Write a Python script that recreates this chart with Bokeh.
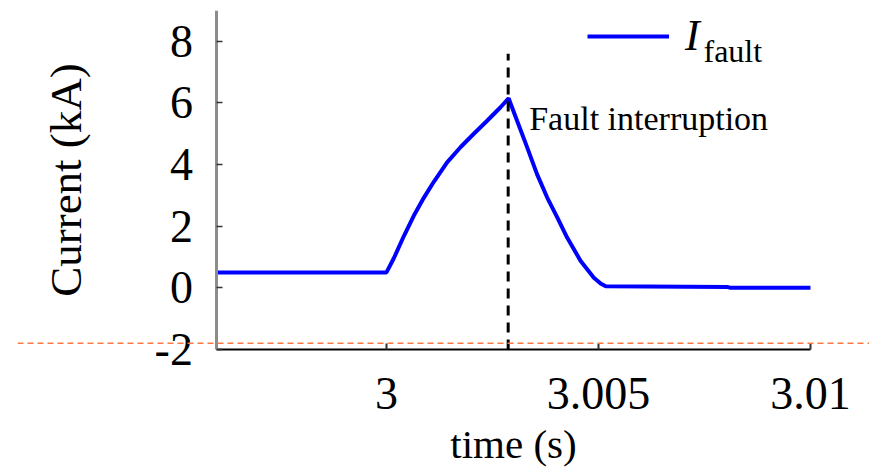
from bokeh.plotting import figure
from bokeh.models import (Range1d, FixedTicker, Legend, LegendItem, Label, Span)
from bokeh.embed import file_html
from bokeh.resources import INLINE

# ---- data ----
time_s = [2.996, 3.0000, 3.00017, 3.00041, 3.00064, 3.00088, 3.00112, 3.00143,
          3.00175, 3.00206, 3.00238, 3.00269, 3.00288,
          3.00308, 3.00332, 3.00355, 3.00379, 3.00403, 3.00426, 3.00458,
          3.00489, 3.00505, 3.00517, 3.00804, 3.00811, 3.010]
i_fault_kA = [0.50, 0.50, 0.95, 1.68, 2.33, 2.92, 3.45, 4.07,
              4.57, 5.00, 5.43, 5.86, 6.15,
              5.42, 4.55, 3.69, 2.93, 2.28, 1.63, 0.87,
              0.33, 0.14, 0.05, 0.03, 0.00, 0.00]
t_interrupt = 3.00287
interrupt_line_y = [-2.0, 7.6]
ref_level_kA = -1.8

x_ticks = [3.0, 3.005, 3.01]
x_tick_labels = ["3", "3.005", "3.01"]
y_ticks = [-2, 0, 2, 4, 6, 8]
y_tick_labels = ["-2", "0", "2", "4", "6", "8"]

x_axis_bounds = (2.996, 3.01)
y_axis_bounds = (-2, 9)

FONT = "Liberation Serif"

p = figure(width=869, height=470,
           x_range=Range1d(2.991297, 3.011392), y_range=Range1d(-5.929, 9.0),
           output_backend="svg", toolbar_location=None,
           min_border_left=17, min_border_right=0, min_border_top=10, min_border_bottom=0)
p.outline_line_color = None
p.grid.visible = False
p.background_fill_color = "white"

# orange reference line
p.add_layout(Span(location=ref_level_kA, dimension="width", line_color="#FF7A45",
                  line_width=1.5, line_dash="6 4"))

# curve
r = p.line(time_s, i_fault_kA, line_color="#0000FF", line_width=4)

# interruption marker
p.line([t_interrupt, t_interrupt], interrupt_line_y, line_color="black",
       line_width=3, line_dash="10 7")

# axes (fixed at the data origin so the frame can span the full width)
xa = p.xaxis[0]
xa.fixed_location = y_axis_bounds[0]
xa.bounds = x_axis_bounds
xa.ticker = FixedTicker(ticks=x_ticks)
xa.major_label_overrides = {t: l for t, l in zip(x_ticks, x_tick_labels)}
xa.axis_line_color = "black"
xa.axis_line_width = 2
xa.major_tick_in = 6
xa.major_tick_out = 0
xa.major_tick_line_color = "#333333"
xa.major_tick_line_width = 2
xa.minor_tick_line_color = None
xa.major_label_text_font = FONT
xa.major_label_text_font_size = "46px"
xa.major_label_text_color = "black"
xa.major_label_standoff = 29
xa.axis_label = "time (s)"
xa.axis_label_text_font = FONT
xa.axis_label_text_font_size = "41px"
xa.axis_label_text_font_style = "normal"
xa.axis_label_text_color = "black"
xa.axis_label_standoff = 8

ya = p.yaxis[0]
ya.fixed_location = x_axis_bounds[0]
ya.bounds = y_axis_bounds
ya.ticker = FixedTicker(ticks=y_ticks)
ya.major_label_overrides = {t: l for t, l in zip(y_ticks, y_tick_labels)}
ya.axis_line_color = "#8c8c8c"
ya.axis_line_width = 3
ya.major_tick_in = 6
ya.major_tick_out = 0
ya.major_tick_line_color = "#333333"
ya.major_tick_line_width = 1.5
ya.minor_tick_line_color = None
ya.major_label_text_font = FONT
ya.major_label_text_font_size = "46px"
ya.major_label_text_color = "black"
ya.major_label_standoff = 24
ya.axis_label = "Current (kA)"
ya.axis_label_text_font = FONT
ya.axis_label_text_font_size = "45px"
ya.axis_label_text_font_style = "normal"
ya.axis_label_text_color = "black"
ya.axis_label_standoff = 60

# annotation
p.add_layout(Label(x=t_interrupt, y=5.5, x_offset=21, text="Fault interruption",
                   text_font=FONT, text_font_size="34px", text_color="black",
                   text_baseline="alphabetic"))

# legend
legend = Legend(items=[LegendItem(label="I", renderers=[r])], location=(570, 409),
                glyph_width=82, glyph_height=30, label_standoff=16, padding=0, margin=0,
                spacing=0, border_line_color=None, background_fill_alpha=0,
                label_text_font=FONT, label_text_font_style="italic",
                label_text_font_size="44px", label_text_color="black")
p.add_layout(legend)
p.add_layout(Label(x=686, y=420, x_units="screen", y_units="screen", text="fault",
                   text_font=FONT, text_font_size="32px", text_color="black",
                   text_baseline="alphabetic"))

open("out.html", "w").write(file_html(p, INLINE))
